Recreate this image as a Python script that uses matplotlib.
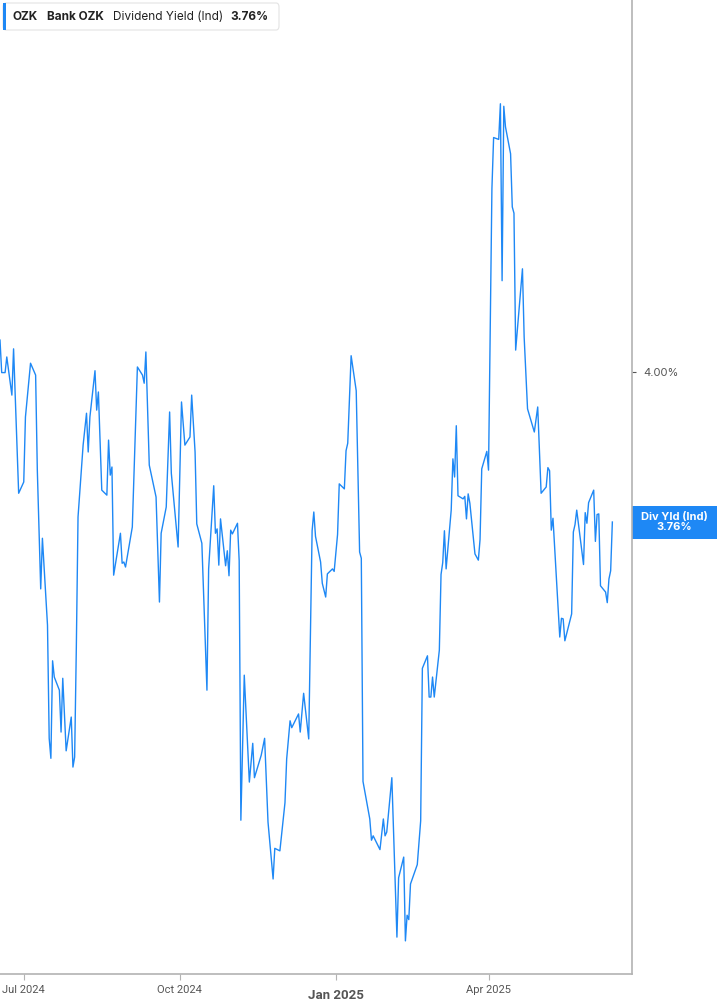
import matplotlib.pyplot as plt
import matplotlib.dates as mdates
import matplotlib.transforms as mtransforms
from matplotlib.patches import Rectangle, FancyBboxPatch
import pandas as pd

# OZK dividend yield (indicated), daily
dates = [
    "2024-06-17", "2024-06-18", "2024-06-20", "2024-06-21", "2024-06-24", "2024-06-25", "2024-06-26",
    "2024-06-28", "2024-07-01", "2024-07-02", "2024-07-05", "2024-07-08", "2024-07-09", "2024-07-11",
    "2024-07-12", "2024-07-15", "2024-07-16", "2024-07-17", "2024-07-18", "2024-07-19", "2024-07-22",
    "2024-07-23", "2024-07-24", "2024-07-26", "2024-07-29", "2024-07-30", "2024-07-31", "2024-08-01",
    "2024-08-02", "2024-08-05", "2024-08-07", "2024-08-08", "2024-08-09", "2024-08-12", "2024-08-13",
    "2024-08-14", "2024-08-16", "2024-08-19", "2024-08-20", "2024-08-21", "2024-08-22", "2024-08-23",
    "2024-08-27", "2024-08-28", "2024-08-29", "2024-08-30", "2024-09-03", "2024-09-06", "2024-09-09",
    "2024-09-10", "2024-09-11", "2024-09-13", "2024-09-17", "2024-09-19", "2024-09-20", "2024-09-23",
    "2024-09-25", "2024-09-26", "2024-09-30", "2024-10-02", "2024-10-04", "2024-10-07", "2024-10-08",
    "2024-10-10", "2024-10-11", "2024-10-14", "2024-10-17", "2024-10-18", "2024-10-21", "2024-10-22",
    "2024-10-23", "2024-10-24", "2024-10-25", "2024-10-28", "2024-10-29", "2024-10-30", "2024-10-31",
    "2024-11-01", "2024-11-04", "2024-11-05", "2024-11-06", "2024-11-08", "2024-11-11", "2024-11-13",
    "2024-11-14", "2024-11-18", "2024-11-20", "2024-11-22", "2024-11-25", "2024-11-26", "2024-11-29",
    "2024-12-02", "2024-12-03", "2024-12-05", "2024-12-06", "2024-12-10", "2024-12-11", "2024-12-13",
    "2024-12-16", "2024-12-18", "2024-12-19", "2024-12-20", "2024-12-23", "2024-12-24", "2024-12-26",
    "2024-12-27", "2024-12-30", "2024-12-31", "2025-01-02", "2025-01-03", "2025-01-06", "2025-01-07",
    "2025-01-08", "2025-01-10", "2025-01-13", "2025-01-15", "2025-01-16", "2025-01-17", "2025-01-21",
    "2025-01-22", "2025-01-23", "2025-01-27", "2025-01-29", "2025-01-30", "2025-01-31", "2025-02-03",
    "2025-02-06", "2025-02-07", "2025-02-10", "2025-02-11", "2025-02-12", "2025-02-13", "2025-02-14",
    "2025-02-18", "2025-02-20", "2025-02-21", "2025-02-24", "2025-02-25", "2025-02-26", "2025-02-27",
    "2025-02-28", "2025-03-03", "2025-03-04", "2025-03-05", "2025-03-06", "2025-03-07", "2025-03-10",
    "2025-03-11", "2025-03-12", "2025-03-13", "2025-03-14", "2025-03-17", "2025-03-18", "2025-03-19",
    "2025-03-20", "2025-03-21", "2025-03-24", "2025-03-26", "2025-03-27", "2025-03-28", "2025-03-31",
    "2025-04-01", "2025-04-03", "2025-04-04", "2025-04-07", "2025-04-08", "2025-04-09", "2025-04-10",
    "2025-04-11", "2025-04-14", "2025-04-15", "2025-04-16", "2025-04-17", "2025-04-21", "2025-04-22",
    "2025-04-24", "2025-04-28", "2025-04-30", "2025-05-02", "2025-05-05", "2025-05-06", "2025-05-07",
    "2025-05-08", "2025-05-09", "2025-05-13", "2025-05-14", "2025-05-15", "2025-05-16", "2025-05-20",
    "2025-05-21", "2025-05-22", "2025-05-23", "2025-05-27", "2025-05-28", "2025-05-29", "2025-05-30",
    "2025-06-02", "2025-06-03", "2025-06-04", "2025-06-05", "2025-06-06", "2025-06-09", "2025-06-10",
    "2025-06-11", "2025-06-12", "2025-06-13",
]
yield_pct = [
    4.051, 3.999, 3.999, 4.024, 3.963, 4.037, 3.960,
    3.806, 3.824, 3.928, 4.014, 3.995, 3.843, 3.653,
    3.734, 3.595, 3.414, 3.382, 3.538, 3.512, 3.491,
    3.424, 3.510, 3.394, 3.448, 3.368, 3.384, 3.560,
    3.768, 3.883, 3.934, 3.872, 3.928, 4.002, 3.939,
    3.968, 3.811, 3.803, 3.891, 3.835, 3.848, 3.675,
    3.742, 3.694, 3.696, 3.688, 3.752, 4.008, 3.995,
    3.982, 4.032, 3.851, 3.800, 3.632, 3.742, 3.784,
    3.936, 3.838, 3.720, 3.952, 3.883, 3.896, 3.963,
    3.872, 3.757, 3.726, 3.491, 3.685, 3.818, 3.742,
    3.749, 3.691, 3.765, 3.690, 3.714, 3.674, 3.747,
    3.741, 3.758, 3.698, 3.283, 3.515, 3.344, 3.406,
    3.351, 3.387, 3.414, 3.280, 3.189, 3.238, 3.234,
    3.311, 3.381, 3.442, 3.431, 3.453, 3.424, 3.486,
    3.413, 3.746, 3.776, 3.737, 3.696, 3.662, 3.640,
    3.677, 3.685, 3.681, 3.740, 3.821, 3.813, 3.874,
    3.886, 4.026, 3.970, 3.712, 3.702, 3.345, 3.285,
    3.251, 3.258, 3.236, 3.285, 3.258, 3.264, 3.351,
    3.096, 3.191, 3.224, 3.090, 3.131, 3.124, 3.181,
    3.212, 3.282, 3.526, 3.546, 3.480, 3.480, 3.512,
    3.480, 3.555, 3.676, 3.695, 3.746, 3.685, 3.779,
    3.861, 3.832, 3.914, 3.802, 3.797, 3.801, 3.765,
    3.805, 3.790, 3.709, 3.699, 3.732, 3.845, 3.873,
    3.843, 4.293, 4.375, 4.372, 4.429, 4.146, 4.425,
    4.392, 4.349, 4.264, 4.254, 4.035, 4.165, 4.056,
    3.941, 3.904, 3.944, 3.806, 3.816, 3.847, 3.842,
    3.747, 3.766, 3.576, 3.606, 3.605, 3.570, 3.613,
    3.744, 3.756, 3.779, 3.692, 3.775, 3.758, 3.791,
    3.811, 3.729, 3.772, 3.773, 3.658, 3.648, 3.631,
    3.669, 3.682, 3.760,
]
ticker = "OZK"
company = "Bank OZK"
metric = "Dividend Yield (Ind)"
last_value = yield_pct[-1]

blue = "#1e88f5"
grey_txt = "#555555"
spine_col = "#b3b3b3"

W, H = 717, 1005
fig = plt.figure(figsize=(W / 100, H / 100), dpi=100)
ax = fig.add_axes([0, 1 - 974 / H, 632 / W, 974 / H])

x = pd.to_datetime(dates)
ax.plot(x, yield_pct, color=blue, lw=1.0)

ax.set_xlim(pd.Timestamp("2024-06-17"), pd.Timestamp("2025-06-24 14:00"))
ax.set_ylim(3.037, 4.595)

for s in ["left", "top"]:
    ax.spines[s].set_visible(False)
for s in ["right", "bottom"]:
    ax.spines[s].set_color(spine_col)
    ax.spines[s].set_linewidth(1.2)

ax.xaxis.set_major_locator(mdates.MonthLocator(bymonth=[1, 4, 7, 10]))
ax.xaxis.set_major_formatter(mdates.DateFormatter("%b %Y"))
ax.tick_params(axis="x", length=4, color=spine_col, labelcolor=grey_txt,
               labelsize=8, pad=4)
for lab in ax.get_xticklabels():
    lab.set_family("Roboto")
fig.canvas.draw()
for lab in ax.get_xticklabels():
    if lab.get_text().startswith("Jan"):
        lab.set_fontweight("bold")
        lab.set_fontsize(9.5)
        lab.set_y(-0.004)

ax.yaxis.tick_right()
ax.set_yticks([4.0])
ax.set_yticklabels(["4.00%"])
ax.tick_params(axis="y", length=3, color=grey_txt, labelcolor=grey_txt,
               labelsize=8, pad=5)
for lab in ax.get_yticklabels():
    lab.set_family("Inter")

# last value tag on the right
units_per_px = (4.595 - 3.037) / 974
half = 16.5 * units_per_px
trans = mtransforms.blended_transform_factory(ax.transAxes, ax.transData)
ax.add_patch(Rectangle((1.0, last_value - half), (W - 632) / 632, 2 * half,
                       transform=trans, color=blue, clip_on=False, lw=0))
ax.text(1 + (674 - 632) / 632, last_value, f"Div Yld (Ind)\n{last_value:.2f}%",
        transform=trans, ha="center", va="center", color="white",
        fontsize=8, fontweight="bold", family="Inter", linespacing=1.0)


def fx(px):
    return px / W


def fy(py):
    return 1 - py / H


# legend box top-left
fig.patches.append(FancyBboxPatch((fx(3), fy(30)), fx(276), 27 / H,
                                  boxstyle="round,pad=0,rounding_size=0.004",
                                  transform=fig.transFigure, facecolor="white",
                                  edgecolor="#e3e3e3", lw=0.8))
fig.patches.append(Rectangle((fx(3), fy(30)), fx(3), 27 / H,
                             transform=fig.transFigure, color=blue, lw=0))
fig.text(fx(13), fy(17), ticker, fontsize=8.5, fontweight="bold",
         family="Inter", color="#222222", va="center")
fig.text(fx(47), fy(17), company, fontsize=8.5, fontweight="bold",
         family="Inter", color="#222222", va="center")
fig.text(fx(113), fy(17), metric, fontsize=8.5,
         family="Inter", color="#222222", va="center")
fig.text(fx(230), fy(17), f"{last_value:.2f}%", fontsize=8.5, fontweight="bold",
         family="Inter", color="#222222", va="center")

fig.savefig("out.png", dpi=100)
